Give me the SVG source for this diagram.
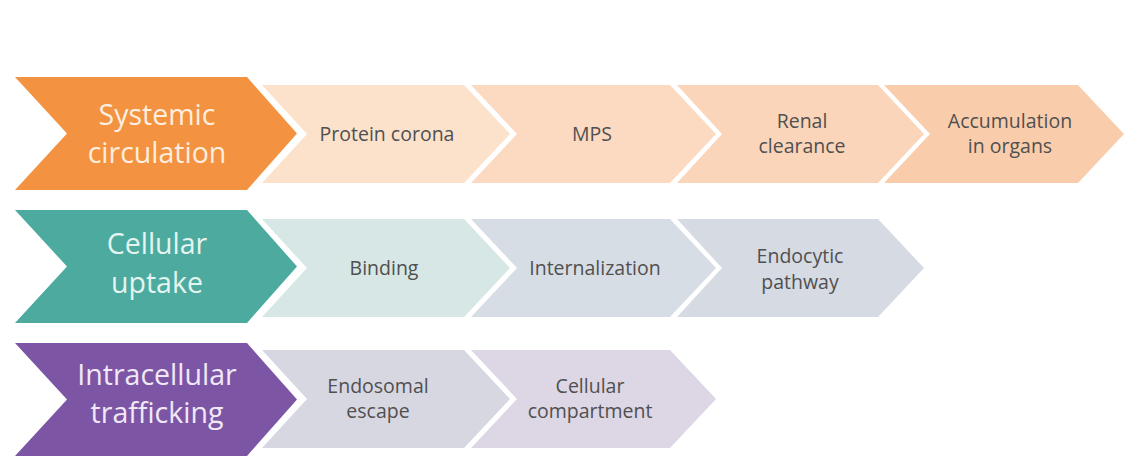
<svg xmlns="http://www.w3.org/2000/svg" width="1126" height="458" viewBox="0 0 1126 458">
<style>
  .big { font-family: "Open Sans", "Noto Sans", "DejaVu Sans", sans-serif; font-size: 28.5px; text-anchor: middle; }
  .sm { font-family: "Open Sans", "Noto Sans", "DejaVu Sans", sans-serif; font-size: 19.5px; text-anchor: middle; fill: #505050; }
  .t1 { fill: #FDEEDF; }
  .t2 { fill: #E4F4F0; }
  .t3 { fill: #F1E8F7; }
</style>
<rect width="1126" height="458" fill="#FFFFFF"/>

<g id="systemic-circulation">
  <polygon points="15,77 247,77 297,133.5 247,190 15,190 67,133.5" fill="#F39240"/>
  <text class="big t1" x="157" y="125">Systemic</text>
  <text class="big t1" x="157" y="163">circulation</text>
</g>
<g id="protein-corona">
  <polygon points="262,85 464,85 510,134 464,183 262,183 307,134" fill="#FCE1CB"/>
  <text class="sm" x="387" y="141">Protein corona</text>
</g>
<g id="mps">
  <polygon points="471,85 670,85 716,134 670,183 471,183 517,134" fill="#FBDAC1"/>
  <text class="sm" x="592" y="141">MPS</text>
</g>
<g id="renal-clearance">
  <polygon points="677,85 878,85 924,134 878,183 677,183 722,134" fill="#FAD5B9"/>
  <text class="sm" x="802" y="128">Renal</text>
  <text class="sm" x="802" y="153">clearance</text>
</g>
<g id="accumulation-in-organs">
  <polygon points="884,85 1078,85 1124,134 1078,183 884,183 930,134" fill="#F9CDAB"/>
  <text class="sm" x="1010" y="128">Accumulation</text>
  <text class="sm" x="1010" y="153">in organs</text>
</g>

<g id="cellular-uptake">
  <polygon points="15,210 247,210 297,266.5 247,323 15,323 67,266.5" fill="#4DAA9E"/>
  <text class="big t2" x="157" y="254">Cellular</text>
  <text class="big t2" x="157" y="293">uptake</text>
</g>
<g id="binding">
  <polygon points="262,219 464,219 510,268 464,317 262,317 307,268" fill="#D6E7E5"/>
  <text class="sm" x="384" y="275">Binding</text>
</g>
<g id="internalization">
  <polygon points="471,219 670,219 716,268 670,317 471,317 517,268" fill="#D6DDE4"/>
  <text class="sm" x="595" y="275">Internalization</text>
</g>
<g id="endocytic-pathway">
  <polygon points="677,219 878,219 924,268 878,317 677,317 722,268" fill="#D5DAE3"/>
  <text class="sm" x="800" y="263">Endocytic</text>
  <text class="sm" x="800" y="289">pathway</text>
</g>

<g id="intracellular-trafficking">
  <polygon points="15,343 247,343 297,399.5 247,456 15,456 67,399.5" fill="#7C56A4"/>
  <text class="big t3" x="157" y="385">Intracellular</text>
  <text class="big t3" x="157" y="423">trafficking</text>
</g>
<g id="endosomal-escape">
  <polygon points="262,350 464,350 510,399 464,448 262,448 307,399" fill="#D7D7E2"/>
  <text class="sm" x="378" y="393">Endosomal</text>
  <text class="sm" x="378" y="418">escape</text>
</g>
<g id="cellular-compartment">
  <polygon points="471,350 670,350 716,399 670,448 471,448 517,399" fill="#DCD6E5"/>
  <text class="sm" x="590" y="393">Cellular</text>
  <text class="sm" x="590" y="418">compartment</text>
</g>
</svg>
